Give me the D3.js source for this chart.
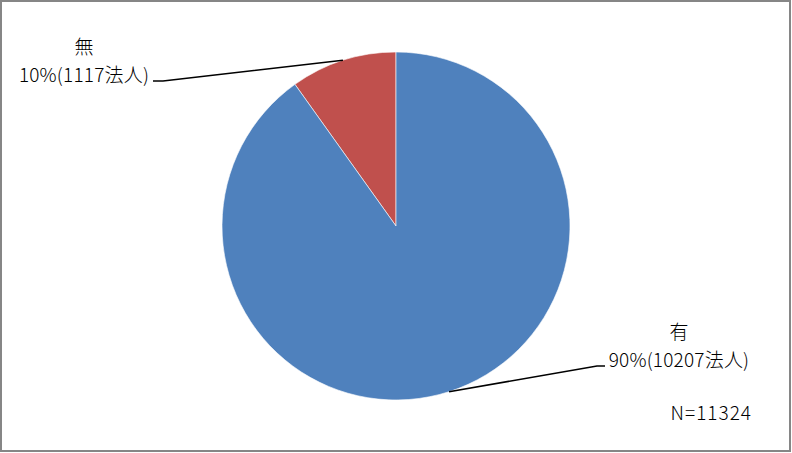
<!DOCTYPE html>
<html><head><meta charset="utf-8">
<script src="https://cdn.jsdelivr.net/npm/d3@7"></script>
<style>body{margin:0;background:#fff}svg{display:block}</style>
</head><body>
<script>
const categories = ["無", "有"];
const values = [1117, 10207];
const percentLabels = ["10%", "90%"];
const unit = "法人";
const totalLabel = "N=11324";

const W = 792, H = 453;
const svg = d3.select("body").append("svg").attr("width", W).attr("height", H);
svg.append("rect").attr("x", 1).attr("y", 1).attr("width", W - 3).attr("height", H - 3)
  .attr("fill", "#fff").attr("stroke", "#868686").attr("stroke-width", 2);

const cx = 396, cy = 226, r = 174;
const colors = d3.scaleOrdinal().domain(categories).range(["#C0504D", "#4F81BD"]);
const total = d3.sum(values);
// 無 slice sits just left of 12 o'clock, 有 fills the rest clockwise
const pie = d3.pie().sort(null).startAngle(-2 * Math.PI * values[0] / total).endAngle(2 * Math.PI - 2 * Math.PI * values[0] / total);
const arcs = pie(values);
const arc = d3.arc().innerRadius(0).outerRadius(r);
const g = svg.append("g").attr("transform", `translate(${cx},${cy})`);
g.selectAll("path").data(arcs).join("path")
  .attr("d", arc).attr("fill", (d, i) => colors(categories[i]))
  .attr("stroke", "#fff").attr("stroke-width", 0.6);

const font = "'Noto Sans CJK JP', 'Noto Sans', sans-serif";
const fs = 19;
// label layout: name center x, name baseline, value baseline, line elbow x, line end x, line y
const layout = [
  {x: 84, y1: 54, y2: 82, elbow: 163, end: 153, ly: 81},
  {x: 679, y1: 339, y2: 367, elbow: 597, end: 605, ly: 366}
];
arcs.forEach((a, i) => {
  const L = layout[i];
  const mid = (a.startAngle + a.endAngle) / 2;
  const px = cx + r * Math.sin(mid), py = cy - r * Math.cos(mid);
  svg.append("polyline")
    .attr("points", `${px},${py} ${L.elbow},${L.ly} ${L.end},${L.ly}`)
    .attr("fill", "none").attr("stroke", "#000").attr("stroke-width", 1.6);
  svg.append("text").attr("x", L.x).attr("y", L.y1).attr("text-anchor", "middle")
    .attr("font-family", font).attr("font-size", fs).attr("font-weight", 300).text(categories[i]);
  svg.append("text").attr("x", L.x).attr("y", L.y2).attr("text-anchor", "middle")
    .attr("font-family", font).attr("font-size", fs).attr("font-weight", 300)
    .attr("letter-spacing", 0.2)
    .text(`${percentLabels[i]}(${values[i]}${unit})`);
});
svg.append("text").attr("x", 752).attr("y", 420).attr("text-anchor", "end")
  .attr("font-family", font).attr("font-size", fs).attr("font-weight", 300)
  .attr("letter-spacing", 1).text(totalLabel);
</script>
</body></html>
